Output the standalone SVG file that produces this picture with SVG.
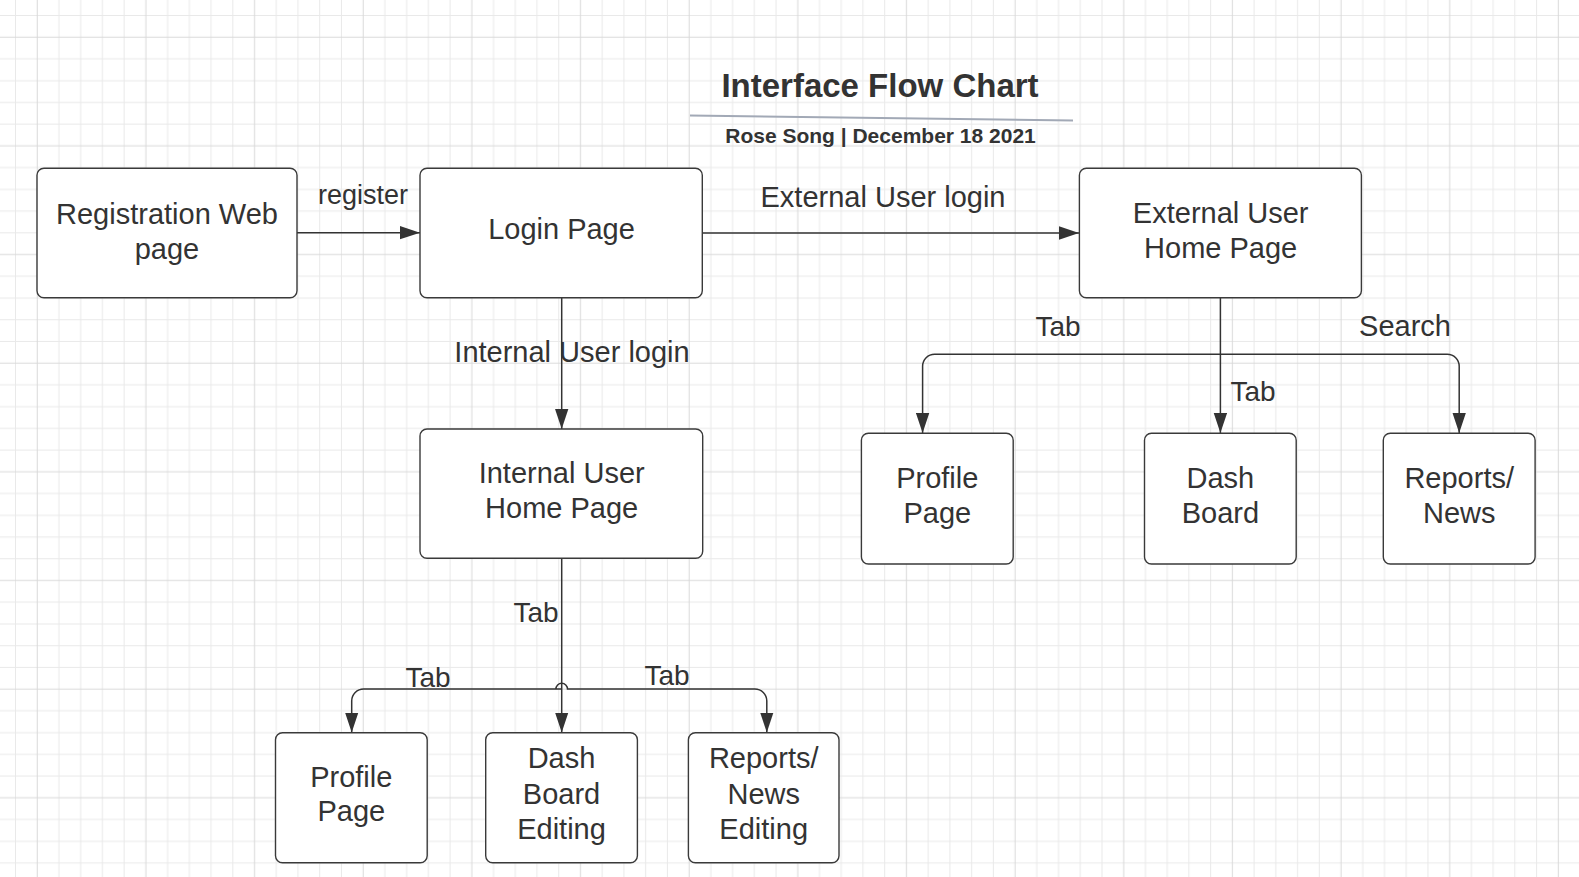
<svg xmlns="http://www.w3.org/2000/svg" width="1579" height="877" viewBox="0 0 1579 877">
<defs>
<pattern id="grid" x="15" y="15" width="108.65" height="108.65" patternUnits="userSpaceOnUse">
<path d="M0.5,0 V108.65 M43.96,0 V108.65 M65.69,0 V108.65 M87.42,0 V108.65 M0,0.5 H108.65 M0,43.96 H108.65 M0,65.69 H108.65 M0,87.42 H108.65" stroke="#e9e9e9" stroke-width="1" fill="none"/>
<path d="M22.23,0 V108.65 M0,22.23 H108.65" stroke="#d9d9d9" stroke-width="1" fill="none"/>
</pattern>
<marker id="arr" markerUnits="userSpaceOnUse" markerWidth="20" markerHeight="14" viewBox="0 0 18 12" refX="18" refY="6" orient="auto">
<path d="M0,0 L18,6 L0,12 Z" fill="#333"/>
</marker>
<style>
.box{fill:#fff;stroke:#3a3a3a;stroke-width:1.4}
.t{font-family:"Liberation Sans",Arial,sans-serif;font-size:29px;fill:#333;text-anchor:middle}
.lbl{font-family:"Liberation Sans",Arial,sans-serif;font-size:28px;fill:#333;text-anchor:middle}
.c{fill:none;stroke:#333;stroke-width:1.5}
</style>
</defs>
<rect width="1579" height="877" fill="#fff"/>
<rect width="1579" height="877" fill="url(#grid)"/>

<g id="title">
<text x="880" y="97" style="font-family:'Liberation Sans',Arial,sans-serif;font-size:33px;font-weight:bold;fill:#333" text-anchor="middle">Interface Flow Chart</text>
<path d="M690,115.5 L1073,120.5" stroke="#a2a9b6" stroke-width="2" fill="none"/>
<text x="880.5" y="143" style="font-family:'Liberation Sans',Arial,sans-serif;font-size:21px;font-weight:bold;fill:#333" text-anchor="middle">Rose Song | December 18 2021</text>
</g>

<g id="connectors">
<path class="c" d="M297,232.7 H420" marker-end="url(#arr)"/>
<path class="c" d="M702,233 H1079" marker-end="url(#arr)"/>
<path class="c" d="M561.7,298 V429" marker-end="url(#arr)"/>
<path class="c" d="M1220.4,298 V433" marker-end="url(#arr)"/>
<path class="c" d="M1220.4,354.3 H934.6 A12 12 0 0 0 922.6,366.3 V433" marker-end="url(#arr)"/>
<path class="c" d="M1220.4,354.3 H1447.2 A12 12 0 0 1 1459.2,366.3 V433" marker-end="url(#arr)"/>
<path class="c" d="M561.7,558.5 V732.5" marker-end="url(#arr)"/>
<path class="c" d="M561.7,689 H363.7 A12 12 0 0 0 351.7,701 V732.5" marker-end="url(#arr)"/>
<path class="c" d="M555.9,689 A5.8 5.8 0 0 1 567.5,689 H754.8 A12 12 0 0 1 766.8,701 V732.5" marker-end="url(#arr)"/>
<text class="lbl" x="363" y="204" style="font-size:27px">register</text>
<text class="lbl" x="883" y="207" style="font-size:29px">External User login</text>
<text class="lbl" x="572" y="362" style="font-size:29px">Internal User login</text>
<text class="lbl" x="1058" y="336">Tab</text>
<text class="lbl" x="1405" y="336" style="font-size:29px">Search</text>
<text class="lbl" x="1253" y="401">Tab</text>
<text class="lbl" x="536" y="622">Tab</text>
<text class="lbl" x="428" y="687">Tab</text>
<text class="lbl" x="667" y="685">Tab</text>
</g>

<g id="registration">
<rect class="box" x="37" y="168.3" width="260" height="129.4" rx="7"/>
<text class="t" x="167" y="223.5">Registration Web</text>
<text class="t" x="167" y="258.5">page</text>
</g>
<g id="login">
<rect class="box" x="420" y="168.3" width="282.3" height="129.4" rx="7"/>
<text class="t" x="561.5" y="239">Login Page</text>
</g>
<g id="external-home">
<rect class="box" x="1079.4" y="168.3" width="282" height="129.4" rx="7"/>
<text class="t" x="1220.7" y="223.3">External User</text>
<text class="t" x="1220.7" y="258.3">Home Page</text>
</g>
<g id="internal-home">
<rect class="box" x="420" y="429" width="282.7" height="129.3" rx="7"/>
<text class="t" x="561.7" y="483.3">Internal User</text>
<text class="t" x="561.7" y="518.3">Home Page</text>
</g>
<g id="ext-profile">
<rect class="box" x="861.4" y="433.3" width="151.8" height="130.7" rx="7"/>
<text class="t" x="937.3" y="488.3">Profile</text>
<text class="t" x="937.3" y="522.7">Page</text>
</g>
<g id="ext-dash">
<rect class="box" x="1144.5" y="433.3" width="151.7" height="130.7" rx="7"/>
<text class="t" x="1220.4" y="488.3">Dash</text>
<text class="t" x="1220.4" y="522.7">Board</text>
</g>
<g id="ext-reports">
<rect class="box" x="1383.3" y="433.3" width="151.8" height="130.7" rx="7"/>
<text class="t" x="1459.2" y="488.3">Reports/</text>
<text class="t" x="1459.2" y="522.7">News</text>
</g>
<g id="int-profile">
<rect class="box" x="275.5" y="732.7" width="151.7" height="130" rx="7"/>
<text class="t" x="351.3" y="786.7">Profile</text>
<text class="t" x="351.3" y="820.5">Page</text>
</g>
<g id="int-dash">
<rect class="box" x="485.7" y="732.7" width="151.7" height="130" rx="7"/>
<text class="t" x="561.5" y="768.3">Dash</text>
<text class="t" x="561.5" y="803.5">Board</text>
<text class="t" x="561.5" y="838.5">Editing</text>
</g>
<g id="int-reports">
<rect class="box" x="688.4" y="732.7" width="150.6" height="130" rx="7"/>
<text class="t" x="763.7" y="768.3">Reports/</text>
<text class="t" x="763.7" y="803.5">News</text>
<text class="t" x="763.7" y="838.5">Editing</text>
</g>
</svg>
